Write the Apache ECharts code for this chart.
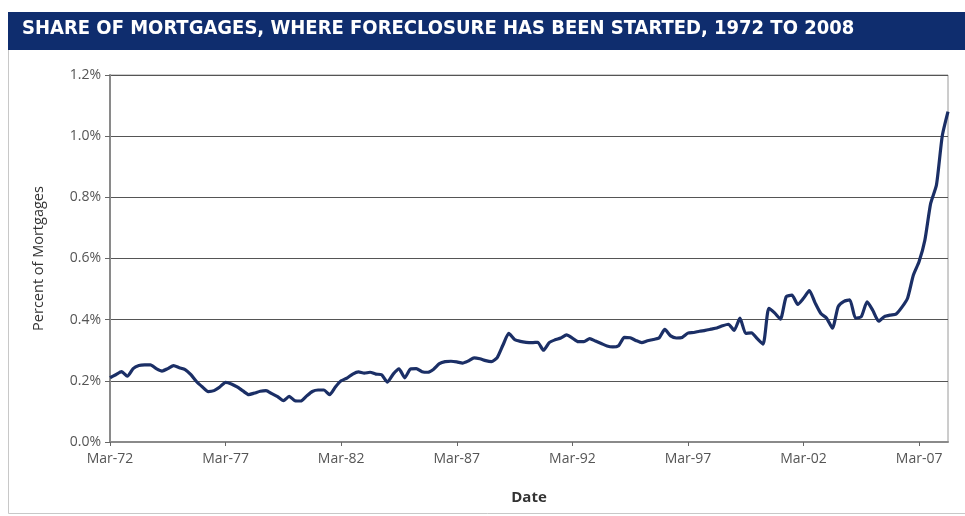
<!DOCTYPE html>
<html><head><meta charset="utf-8">
<script src="https://cdn.jsdelivr.net/npm/echarts@6/dist/echarts.min.js"></script>
<style>html,body{margin:0;padding:0;background:#fff}#c{width:965px;height:516px}</style>
</head><body><div id="c"></div>
<script>
const titleText = 'SHARE OF MORTGAGES, WHERE FORECLOSURE HAS BEEN STARTED, 1972 TO 2008';
const yTicks = [0, 0.2, 0.4, 0.6, 0.8, 1.0, 1.2];
const quarterMonths = ['Mar', 'Jun', 'Sep', 'Dec'];
const startYear = 1972;
const values = [
0.21,0.22,0.23,0.215,0.24,0.25,0.252,0.252,0.24,0.232,
0.24,0.25,0.243,0.237,0.22,0.197,0.18,0.165,0.168,0.18,
0.195,0.19,0.18,0.167,0.155,0.16,0.166,0.168,0.158,0.148,
0.135,0.149,0.135,0.134,0.15,0.165,0.17,0.17,0.155,0.18,
0.2,0.209,0.222,0.229,0.225,0.228,0.222,0.22,0.196,0.222,
0.239,0.21,0.239,0.24,0.23,0.228,0.238,0.256,0.263,0.264,
0.262,0.258,0.265,0.275,0.272,0.266,0.263,0.276,0.317,0.355,
0.335,0.329,0.326,0.325,0.326,0.3,0.325,0.334,0.34,0.35,
0.34,0.328,0.328,0.338,0.33,0.322,0.314,0.311,0.315,0.342,
0.341,0.332,0.325,0.331,0.335,0.34,0.368,0.347,0.34,0.342,
0.356,0.358,0.362,0.365,0.369,0.373,0.38,0.385,0.365,0.405,
0.355,0.357,0.338,0.32,0.437,0.422,0.402,0.475,0.48,0.45,
0.47,0.495,0.455,0.42,0.405,0.372,0.443,0.46,0.465,0.405,
0.41,0.458,0.43,0.395,0.41,0.415,0.418,0.44,0.47,0.545,
0.59,0.66,0.78,0.84,1.0,1.08
];
const categories = values.map((v, i) => {
  const y = startYear + Math.floor(i / 4);
  return quarterMonths[i % 4] + '-' + String(y % 100).padStart(2, '0');
});

const chart = echarts.init(document.getElementById('c'), null, {renderer: 'canvas'});
chart.setOption({
  animation: false,
  backgroundColor: '#fff',
  graphic: [
    {type: 'rect', shape: {x: 8.5, y: 49.5, width: 980, height: 464}, style: {fill: 'none', stroke: '#c8c8c8', lineWidth: 1}, z: 0},
    {type: 'rect', shape: {x: 8, y: 12, width: 957, height: 38}, style: {fill: '#0f2d6e'}, z: 1},
    {type: 'text', left: 22, top: 19, style: {text: titleText, fill: '#fff', font: 'bold 20px "DejaVu Sans Condensed", "Liberation Sans Narrow", sans-serif'}, z: 2}
  ],
  grid: {left: 110, right: 17, top: 75, bottom: 74, show: true, borderColor: '#9a9a9a', borderWidth: 1},
  xAxis: {
    type: 'category', data: categories, boundaryGap: false,
    name: 'Date', nameLocation: 'middle', nameGap: 48,
    nameTextStyle: {fontSize: 15, fontWeight: 'bold', color: '#333', fontFamily: 'Open Sans'},
    axisLine: {lineStyle: {color: '#8a8a8a', width: 2}},
    axisTick: {interval: 19, length: 4, lineStyle: {color: '#666'}},
    axisLabel: {interval: 19, color: '#555', fontSize: 14, margin: 10, fontFamily: 'Open Sans'},
    splitLine: {show: false}
  },
  yAxis: {
    type: 'value', min: 0, max: 1.2, interval: 0.2,
    name: 'Percent of Mortgages', nameLocation: 'middle', nameGap: 64, nameRotate: 90,
    nameTextStyle: {fontSize: 14.5, color: '#333', fontFamily: 'Open Sans'},
    axisLine: {show: true, lineStyle: {color: '#8a8a8a', width: 2}},
    axisTick: {show: true, length: 5, inside: false, lineStyle: {color: '#666'}},
    axisLabel: {color: '#555', fontSize: 14, margin: 9, fontFamily: 'Open Sans',
      formatter: v => yTicks.includes(Math.round(v * 10) / 10) ? v.toFixed(1) + '%' : ''},
    splitLine: {lineStyle: {color: '#555', width: 1}}
  },
  series: [{
    type: 'line', data: values, showSymbol: false, smooth: 0.2,
    lineStyle: {color: '#1b2f66', width: 3.2}
  }]
});
</script></body></html>
